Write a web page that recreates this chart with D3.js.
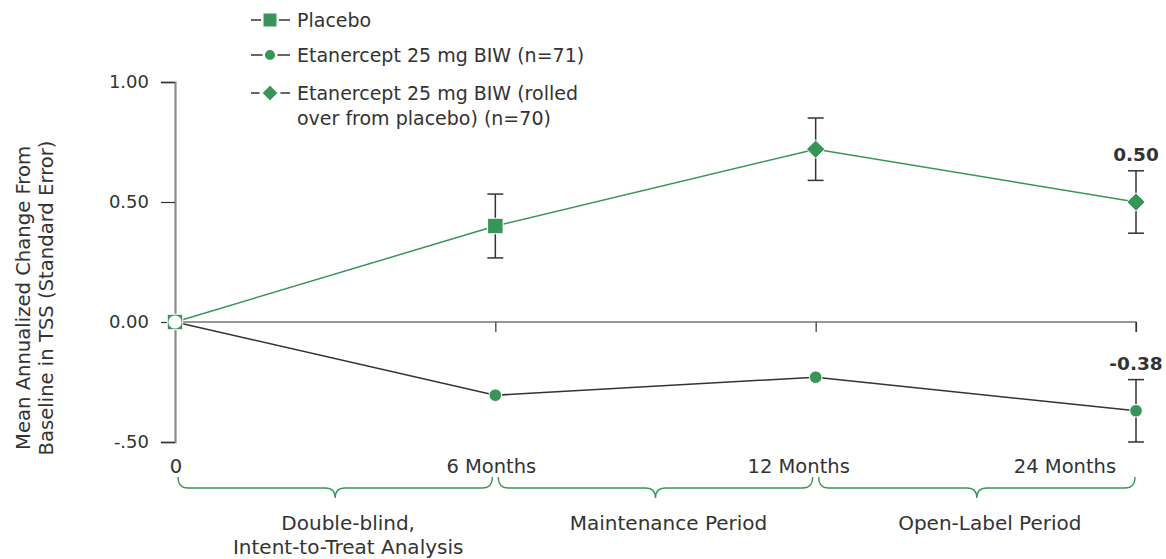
<!DOCTYPE html>
<html><head><meta charset="utf-8">
<script src="https://cdn.jsdelivr.net/npm/d3@7"></script>
<style>body{margin:0;background:#fff}text{font-family:"DejaVu Sans",sans-serif;fill:#333}</style>
</head><body>
<svg id="c" width="1166" height="559"></svg>
<script>
const timepoints = ["0", "6 Months", "12 Months", "24 Months"];
const yTicks = [1.0, 0.5, 0.0, -0.5];
const yTickLabels = ["1.00", "0.50", "0.00", "-.50"];
// Placebo (square): baseline and 6 months
const placeboX = ["0", "6 Months"];
const placeboY = [0, 0.40];
const placeboSE = [null, 0.133];
// Etanercept rolled over from placebo (diamond)
const rolledX = ["6 Months", "12 Months", "24 Months"];
const rolledY = [0.40, 0.72, 0.50];
const rolledSE = [null, 0.13, 0.13];
// Etanercept 25 mg BIW (circle)
const etanX = ["0", "6 Months", "12 Months", "24 Months"];
const etanY = [0, -0.305, -0.23, -0.37];
const etanSE = [null, null, null, 0.13];
const valueLabels = [{x: "24 Months", y: 0.50, se: 0.13, text: "0.50"}, {x: "24 Months", y: -0.37, se: 0.13, text: "-0.38"}];
const periods = [{from: "0", to: "6 Months", lines: ["Double-blind,", "Intent-to-Treat Analysis"]},
                 {from: "6 Months", to: "12 Months", lines: ["Maintenance Period"]},
                 {from: "12 Months", to: "24 Months", lines: ["Open-Label Period"]}];
const legendItems = [{sym: "square", lines: ["Placebo"]},
                     {sym: "circle", lines: ["Etanercept 25 mg BIW (n=71)"]},
                     {sym: "diamond", lines: ["Etanercept 25 mg BIW (rolled", "over from placebo) (n=70)"]}];

const green = "#37955a", dark = "#333", axisCol = "#8a8a8a";
const svg = d3.select("#c");
const x = d3.scalePoint().domain(timepoints).range([175, 1136]);
const y = d3.scaleLinear().domain([-0.5, 1.0]).range([442, 82]);

// y axis
const yAxis = d3.axisLeft(y).tickValues(yTicks).tickFormat((d,i)=>yTickLabels[i]).tickSize(14).tickPadding(12);
const gy = svg.append("g").attr("transform","translate(175,0)").call(yAxis);
gy.select(".domain").attr("stroke", axisCol).attr("stroke-width", 2.2);
gy.selectAll(".tick line").attr("stroke", dark).attr("stroke-width", 1.2);
gy.selectAll(".tick text").style("font-size","18px").attr("fill","#333");

// x axis at zero
const xAxis = d3.axisBottom(x).tickSize(10).tickFormat("");
const gx = svg.append("g").attr("transform",`translate(0,${y(0)})`).call(xAxis);
gx.select(".domain").attr("stroke", dark).attr("stroke-width", 1.2).attr("d", `M${x("0")},0H${x("24 Months")}V10`);
gx.selectAll(".tick line").attr("stroke", dark).attr("stroke-width", 1.2).filter(d=>d==="0").remove();
// x tick labels
const tickOffsets = {"0": 1, "6 Months": -4, "12 Months": -17, "24 Months": -71};
svg.append("g").selectAll("text").data(timepoints).join("text")
  .attr("x", d=>x(d)+tickOffsets[d]).attr("y", 473).attr("text-anchor","middle")
  .style("font-size","19.5px").text(d=>d);

// y title
const yt = svg.append("text").attr("transform","translate(30,298) rotate(-90)").attr("text-anchor","middle").style("font-size","19.6px");
yt.append("tspan").attr("x",0).attr("dy",0).text("Mean Annualized Change From");
yt.append("tspan").attr("x",0).attr("dy",23).text("Baseline in TSS (Standard Error)");

// lines
const line = d3.line().x(d=>x(d[0])).y(d=>y(d[1]));
const greenPts = placeboX.map((d,i)=>[d,placeboY[i]]).concat(rolledX.slice(1).map((d,i)=>[d,rolledY[i+1]]));
svg.append("path").attr("d", line(greenPts)).attr("fill","none").attr("stroke",green).attr("stroke-width",1.5);
svg.append("path").attr("d", line(etanX.map((d,i)=>[d,etanY[i]]))).attr("fill","none").attr("stroke",dark).attr("stroke-width",1.5);

// error bars
function errBar(xv, yv, se){
  if(se==null) return;
  const g = svg.append("g").attr("stroke", dark).attr("stroke-width",1.5);
  const cx = x(xv);
  g.append("line").attr("x1",cx).attr("x2",cx).attr("y1",y(yv+se)).attr("y2",y(yv-se));
  g.append("line").attr("x1",cx-8).attr("x2",cx+8).attr("y1",y(yv+se)).attr("y2",y(yv+se));
  g.append("line").attr("x1",cx-8).attr("x2",cx+8).attr("y1",y(yv-se)).attr("y2",y(yv-se));
}
placeboX.forEach((d,i)=>errBar(d, placeboY[i], placeboSE[i]));
rolledX.forEach((d,i)=>errBar(d, rolledY[i], rolledSE[i]));
etanX.forEach((d,i)=>errBar(d, etanY[i], etanSE[i]));

const symSize = {square: 240, circle: 125, diamond: 215};
const symType = {square: d3.symbolSquare, circle: d3.symbolCircle, diamond: d3.symbolDiamond2};
function marker(sym, cx, cy, fill){
  svg.append("path").attr("d", d3.symbol().type(symType[sym]).size(symSize[sym])())
    .attr("transform",`translate(${cx},${cy})`).attr("fill",fill).attr("stroke","#fff").attr("stroke-width",1);
}
// markers
etanX.forEach((d,i)=>{ if(i>0) marker("circle", x(d), y(etanY[i]), green); });
rolledX.forEach((d,i)=>{ if(i>0) marker("diamond", x(d), y(rolledY[i]), green); });
placeboX.forEach((d,i)=>marker("square", x(d), y(placeboY[i]), green));
// baseline: open circle inside square
svg.append("circle").attr("cx", x("0")).attr("cy", y(0)).attr("r", 6.6).attr("fill","#fff");

// value labels
svg.append("g").selectAll("text").data(valueLabels).join("text")
  .attr("x", d=>x(d.x)).attr("y", d=>y(d.y+d.se)-10).attr("text-anchor","middle")
  .style("font-size","18.5px").style("font-weight","700").text(d=>d.text);

// braces
function brace(x1, x2, top, h, b){
  const mid = (x1+x2)/2, r = 10;
  return `M${x1},${top} Q${x1},${h} ${x1+r},${h} L${mid-r},${h} Q${mid},${h} ${mid},${b} Q${mid},${h} ${mid+r},${h} L${x2-r},${h} Q${x2},${h} ${x2},${top}`;
}
periods.forEach(p=>{
  const x1 = x(p.from)+3, x2 = x(p.to)-(p.to==="24 Months"?1:3);
  svg.append("path").attr("d", brace(x1, x2, 477, 488, 498)).attr("fill","none").attr("stroke",green).attr("stroke-width",1.3);
  const t = svg.append("text").attr("text-anchor","middle").style("font-size","20px");
  p.lines.forEach((l,i)=>t.append("tspan").attr("x",(x1+x2)/2+13).attr("y",530+i*24).text(l));
});

// legend
const lg = svg.append("g");
legendItems.forEach((it,i)=>{
  const cy = [20, 55, 93][i];
  lg.append("line").attr("x1",251).attr("x2",290).attr("y1",cy).attr("y2",cy).attr("stroke",dark).attr("stroke-width",1.5);
  lg.append("path").attr("d", d3.symbol().type(symType[it.sym]).size(symSize[it.sym])())
    .attr("transform",`translate(270,${cy})`).attr("fill",green).attr("stroke","#fff").attr("stroke-width",2.5);
  const t = lg.append("text").style("font-size","19px");
  it.lines.forEach((l,j)=>t.append("tspan").attr("x",297).attr("y",cy+7+j*25).text(l));
});
</script>
</body></html>
